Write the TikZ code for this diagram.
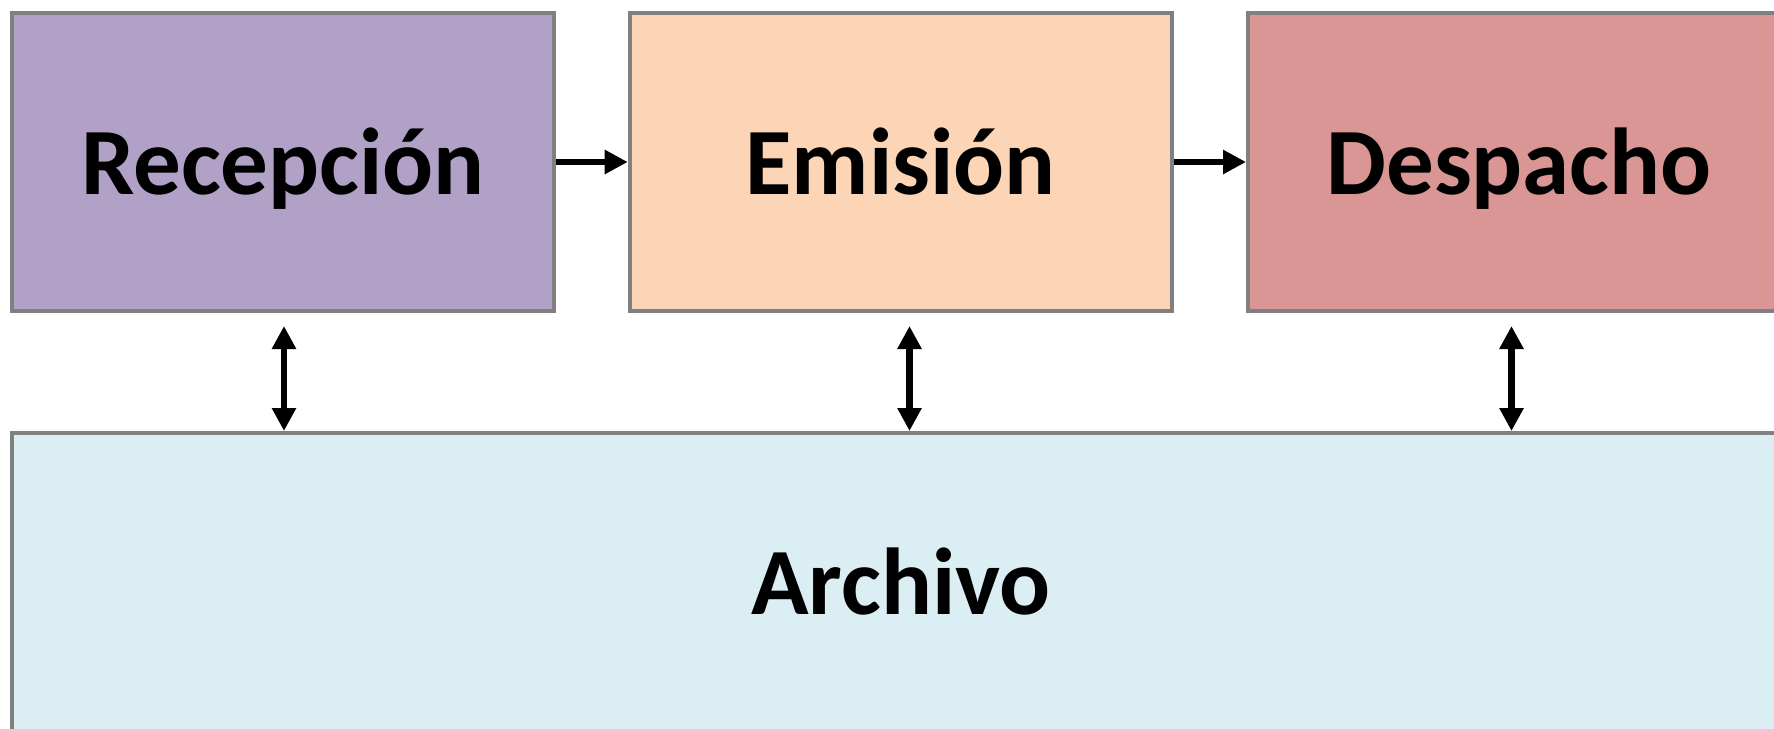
\documentclass[tikz,border=0pt]{standalone}
\usepackage{fontspec}
\setmainfont{Carlito}
\usetikzlibrary{arrows.meta,calc}
\definecolor{recfill}{HTML}{B2A1C7}
\definecolor{emifill}{HTML}{FBD5B5}
\definecolor{desfill}{HTML}{D99694}
\definecolor{arcfill}{HTML}{DBEEF4}
\definecolor{bordergray}{HTML}{808080}
\tikzset{
  procbox/.style={draw=bordergray, line width=4pt, rectangle, inner sep=0pt,
    minimum width=542pt, minimum height=298pt,
    font=\fontsize{95}{112}\selectfont\bfseries, text height=64pt, text depth=0pt},
  flow/.style={line width=6.5pt, -{Triangle[length=23pt,width=23pt]}},
  dflow/.style={line width=6.5pt, {Triangle[length=23pt,width=23pt]}-{Triangle[length=23pt,width=23pt]}}
}
\begin{document}
\begin{tikzpicture}[x=1pt,y=-1pt]
\useasboundingbox (0,0) rectangle (1774,728);
\node[procbox, fill=recfill] (rec) at (283,162) {Recepción};
\node[procbox, fill=emifill] (emi) at (900.7,162) {Emisión};
\node[procbox, fill=desfill] (des) at (1519,162) {Despacho};
\node[procbox, fill=arcfill, minimum width=1778pt, minimum height=298pt] (arc) at (901,582) {Archivo};
\draw[flow] (rec.east) -- (emi.west);
\draw[flow] (emi.east) -- (des.west);
\coordinate (r1) at (284,326);
\coordinate (e1) at (909.5,326);
\coordinate (d1) at (1511.5,326);
\draw[dflow] (r1) -- (r1 |- arc.north);
\draw[dflow] (e1) -- (e1 |- arc.north);
\draw[dflow] (d1) -- (d1 |- arc.north);
\end{tikzpicture}
\end{document}
